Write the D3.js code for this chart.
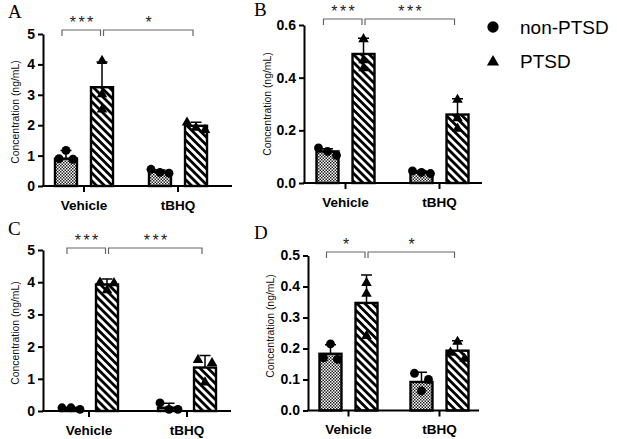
<!DOCTYPE html>
<html>
<head>
<meta charset="utf-8">
<script src="https://cdn.jsdelivr.net/npm/d3@7"></script>
<style>
body { margin: 0; background: #fff; }
svg { display: block; font-family: Arial, 'Liberation Sans', sans-serif; }
</style>
</head>
<body>
<script>
let groups = ['Vehicle', 'tBHQ'];
let series = ['non-PTSD', 'PTSD'];

// values are [group][series]; err = top of the error bar
let ticksA = [0, 1, 2, 3, 4, 5];
let meanA = [[0.9, 3.25], [0.47, 1.98]];
let errA = [[1.17, 4.08], [0.53, 2.1]];
let pointsA = [[[1.17, 0.88, 0.9], [4.15, 2.55, 3.05]], [[0.55, 0.45, 0.42], [2.12, 1.95, 1.88]]];
let sigA = ['***', '*'];

let ticksB = [0, 0.2, 0.4, 0.6];
let meanB = [[0.12, 0.49], [0.04, 0.26]];
let errB = [[0.13, 0.55], [0.046, 0.32]];
let pointsB = [[[0.133, 0.12, 0.105], [0.55, 0.47, 0.44]], [[0.046, 0.04, 0.036], [0.32, 0.25, 0.21]]];
let sigB = ['***', '***'];

let ticksC = [0, 1, 2, 3, 4, 5];
let meanC = [[0.08, 3.93], [0.1, 1.35]];
let errC = [[0.11, 4.1], [0.24, 1.72]];
let pointsC = [[[0.05, 0.1, 0.1], [4.02, 4.0, 3.78]], [[0.25, 0.05, 0.05], [1.62, 1.52, 0.92]]];
let sigC = ['***', '***'];

let ticksD = [0, 0.1, 0.2, 0.3, 0.4, 0.5];
let meanD = [[0.183, 0.347], [0.092, 0.193]];
let errD = [[0.212, 0.437], [0.123, 0.225]];
let pointsD = [[[0.215, 0.17, 0.165], [0.415, 0.38, 0.244]], [[0.12, 0.1, 0.063], [0.225, 0.19, 0.17]]];
let sigD = ['*', '*'];

let width = 617, height = 439;

let svg = d3.select('body').append('svg')
    .attr('width', width)
    .attr('height', height);

// fill patterns: checker for non-PTSD, diagonal stripes for PTSD
let defs = svg.append('defs');
let checker = defs.append('pattern').attr('id', 'checker')
    .attr('patternUnits', 'userSpaceOnUse')
    .attr('width', 3).attr('height', 3);
checker.append('rect').attr('width', 3).attr('height', 3).attr('fill', '#fff');
checker.append('rect').attr('width', 1.5).attr('height', 1.5).attr('fill', '#222');
checker.append('rect').attr('x', 1.5).attr('y', 1.5).attr('width', 1.5).attr('height', 1.5).attr('fill', '#222');

let stripes = defs.append('pattern').attr('id', 'stripes')
    .attr('patternUnits', 'userSpaceOnUse')
    .attr('width', 10).attr('height', 5.6)
    .attr('patternTransform', 'rotate(45)');
stripes.append('rect').attr('width', 10).attr('height', 5.6).attr('fill', '#fff');
stripes.append('rect').attr('width', 10).attr('height', 2.8).attr('fill', '#000');

let fills = {'non-PTSD': 'url(#checker)', 'PTSD': 'url(#stripes)'};
let shapes = {'non-PTSD': d3.symbolCircle, 'PTSD': d3.symbolTriangle};
let shapeSize = {'non-PTSD': 62, 'PTSD': 48};

let panels = [
    {id: 'A', ticks: ticksA, fmt: d3.format('d'), mean: meanA, err: errA, points: pointsA, sig: sigA,
        left: 43, right: 232, bottom: 186, top: 34, band: [37, 225],
        labelX: 15, labelY: 112, letterX: 8, letterY: 18, bracketY: 30},
    {id: 'B', ticks: ticksB, fmt: d3.format('.1f'), mean: meanB, err: errB, points: pointsB, sig: sigB,
        left: 304, right: 482, bottom: 183, top: 25, band: [298.5, 486.5],
        labelX: 267, labelY: 104, letterX: 254, letterY: 16, bracketY: 19},
    {id: 'C', ticks: ticksC, fmt: d3.format('d'), mean: meanC, err: errC, points: pointsC, sig: sigC,
        left: 43, right: 231, bottom: 411, top: 250, band: [40, 236],
        labelX: 15, labelY: 333, letterX: 8, letterY: 235, bracketY: 248},
    {id: 'D', ticks: ticksD, fmt: d3.format('.1f'), mean: meanD, err: errD, points: pointsD, sig: sigD,
        left: 308, right: 479, bottom: 410.5, top: 255.5, band: [303, 485],
        labelX: 270, labelY: 326, letterX: 254, letterY: 239, bracketY: 252}
];

// spread replicates that would overlap, like a scatter dot plot
function spread(vals, y) {
    let order = vals.map((v, i) => ({v: v, i: i, py: y(v)})).sort((a, b) => a.py - b.py);
    let clusters = [];
    order.forEach(o => {
        let last = clusters[clusters.length - 1];
        if (last && o.py - last[last.length - 1].py < 7) last.push(o);
        else clusters.push([o]);
    });
    let out = [];
    clusters.forEach(c => {
        let gap = c.length === 2 ? 14 : 9;
        c.forEach((o, k) => out.push({v: o.v, dx: (k - (c.length - 1) / 2) * gap}));
    });
    return out;
}

function drawPanel(p) {
    let g = svg.append('g').attr('class', 'panel-' + p.id);

    let y = d3.scaleLinear().domain([0, d3.max(p.ticks)]).range([p.bottom, p.top]);
    let x = d3.scaleBand().domain(groups).range(p.band);
    let half = x.bandwidth() / 2;
    let xs = d3.scaleBand().domain(series).range([half - 29, half + 29]).paddingInner(0.39);

    let cx = (gi, si) => x(groups[gi]) + xs(series[si]) + xs.bandwidth() / 2;

    // bars
    groups.forEach((grp, gi) => {
        series.forEach((s, si) => {
            let v = p.mean[gi][si];
            g.append('rect')
                .attr('x', x(grp) + xs(s))
                .attr('y', y(v))
                .attr('width', xs.bandwidth())
                .attr('height', y(0) - y(v))
                .attr('fill', fills[s])
                .attr('stroke', '#000')
                .attr('stroke-width', 2.4);
        });
    });

    // error bars (upper only)
    groups.forEach((grp, gi) => {
        series.forEach((s, si) => {
            let c = cx(gi, si);
            let top = y(p.err[gi][si]);
            g.append('path')
                .attr('d', `M${c},${y(p.mean[gi][si])}V${top}M${c - 5.5},${top}H${c + 5.5}`)
                .attr('stroke', '#000')
                .attr('stroke-width', 1.5)
                .attr('fill', 'none');
        });
    });

    // replicate points
    groups.forEach((grp, gi) => {
        series.forEach((s, si) => {
            let c = cx(gi, si);
            spread(p.points[gi][si], y).forEach(pt => {
                g.append('path')
                    .attr('d', d3.symbol(shapes[s], shapeSize[s])())
                    .attr('transform', `translate(${c + pt.dx},${y(pt.v) + (s === 'PTSD' ? 1 : 0)})`)
                    .attr('fill', '#000');
            });
        });
    });

    // y axis
    let yAxis = g.append('g')
        .attr('transform', `translate(${p.left},0)`)
        .call(d3.axisLeft(y).tickValues(p.ticks).tickFormat(p.fmt).tickSize(5).tickSizeOuter(0).tickPadding(3));
    yAxis.select('.domain').attr('stroke-width', 2);
    yAxis.selectAll('.tick line').attr('stroke-width', 2);
    yAxis.selectAll('text').attr('font-size', 14).attr('font-weight', 'bold').attr('fill', '#000')
        .attr('font-family', 'Arial, Liberation Sans, sans-serif');

    // x axis
    g.append('line')
        .attr('x1', p.left - 1).attr('x2', p.right)
        .attr('y1', p.bottom).attr('y2', p.bottom)
        .attr('stroke', '#000').attr('stroke-width', 2);
    let xAxis = g.append('g')
        .attr('transform', `translate(0,${p.bottom})`)
        .call(d3.axisBottom(x).tickSize(6).tickPadding(8));
    xAxis.select('.domain').remove();
    xAxis.selectAll('.tick line').attr('stroke-width', 2);
    xAxis.selectAll('text').attr('font-size', 13.5).attr('font-weight', 'bold').attr('fill', '#000')
        .attr('font-family', 'Arial, Liberation Sans, sans-serif');

    // y label
    g.append('text')
        .attr('transform', `translate(${p.labelX},${p.labelY}) rotate(-90)`)
        .attr('text-anchor', 'middle')
        .attr('dy', '0.35em')
        .attr('font-size', 10.4)
        .attr('fill', '#111')
        .text('Concentration (ng/mL)');

    // panel letter
    g.append('text')
        .attr('x', p.letterX).attr('y', p.letterY)
        .attr('font-family', 'Liberation Serif, Times New Roman, serif')
        .attr('font-size', 19)
        .text(p.id);

    // significance brackets
    let b1 = [cx(0, 0) - 4, cx(0, 1) - 1.5];
    let b2 = [cx(0, 1) + 1.5, cx(1, 1) - 3];
    [b1, b2].forEach((b, k) => {
        g.append('path')
            .attr('d', `M${b[0]},${p.bracketY + 6}V${p.bracketY}H${b[1]}V${p.bracketY + 6}`)
            .attr('fill', 'none')
            .attr('stroke', '#666')
            .attr('stroke-width', 1.2);
        g.append('text')
            .attr('x', (b[0] + b[1]) / 2 + 1.5)
            .attr('y', p.bracketY - 2)
            .attr('text-anchor', 'middle')
            .attr('font-size', 16)
            .attr('letter-spacing', 2.5)
            .attr('fill', '#222')
            .text(p.sig[k]);
    });
}

panels.forEach(drawPanel);

// legend
let legend = svg.append('g').attr('class', 'legend');
series.forEach((s, i) => {
    legend.append('path')
        .attr('d', d3.symbol(shapes[s], i === 0 ? 100 : 64)())
        .attr('transform', `translate(493,${27 + i * 34 + (i ? 1 : 0)})`)
        .attr('fill', '#000');
    legend.append('text')
        .attr('x', 520).attr('y', 34 + i * 34)
        .attr('font-size', 19)
        .attr('fill', '#000')
        .text(s);
});
</script>
</body>
</html>
